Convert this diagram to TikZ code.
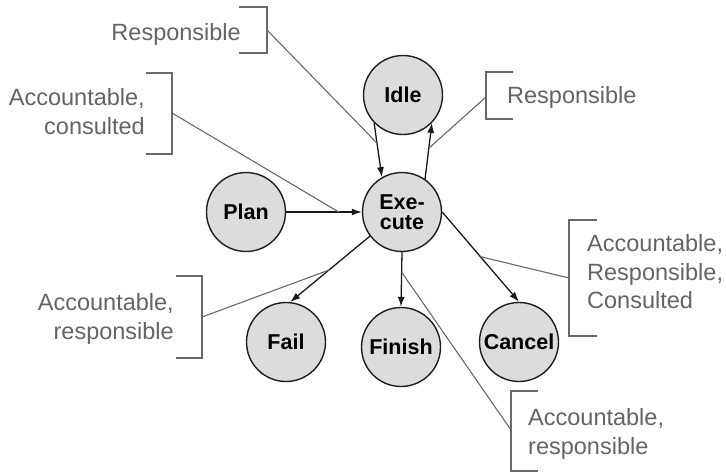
\documentclass[tikz,border=0pt]{standalone}
\usepackage{fontspec}
\setmainfont{Liberation Sans}
\usetikzlibrary{arrows.meta}
\definecolor{nodefill}{RGB}{220,220,222}
\definecolor{nodeline}{RGB}{30,30,30}
\definecolor{labgray}{RGB}{100,100,100}
\definecolor{linegray}{RGB}{105,105,105}
\tikzset{
  state/.style={circle, draw=nodeline, fill=nodefill, line width=1.4pt,
    minimum size=79pt, inner sep=0pt, align=center,
    font=\fontsize{21.5}{22}\selectfont\bfseries},
  arr/.style={-{Latex[length=10pt,width=7pt]}, line width=1.3pt, draw=black!90},
  lab/.style={inner sep=0pt, text=labgray, font=\fontsize{23.5}{28.5}\selectfont},
  brk/.style={draw=linegray, line width=1.2pt},
  note/.style={draw=linegray, line width=1.1pt}
}
\begin{document}
\begin{tikzpicture}[x=1pt, y=-1pt]
\useasboundingbox (0,0) rectangle (726,474);

% states
\node[state] (idle) at (403,95) {Idle};
\node[state] (exec) at (402,212) {Exe-\\[-2pt]cute};
\node[state] (plan) at (246,212) {Plan};
\node[state] (fail) at (286,342) {Fail};
\node[state] (finish) at (401,347) {Finish};
\node[state] (cancel) at (519,342) {Cancel};

% transitions
\draw[arr] (plan.east) -- coordinate[pos=0.695] (pPlan) (exec.west);
\draw[arr] (idle.224) -- coordinate[pos=0.372] (pIdleIn) (exec.120);
\draw[arr] (exec.55) -- coordinate[pos=0.55] (pIdleOut) (idle.-44);
\draw[arr] (exec.east) -- coordinate[pos=0.497] (pCancel) (cancel.north);
\draw[arr] (exec.217) -- coordinate[pos=0.515] (pFail) (fail.84);
\draw[arr] (exec.south) -- coordinate[pos=0.366] (pFinish) (finish.north);

% labels
\node[lab, anchor=north east, align=right] (l1) at (241,23.5) {Responsible};
\node[lab, anchor=north east, align=right] (l2) at (145,88.5) {Accountable,\\consulted};
\node[lab, anchor=north west, align=left] (l3) at (507,86.5) {Responsible};
\node[lab, anchor=north west, align=left] (l4) at (587,234.5) {Accountable,\\Responsible,\\Consulted};
\node[lab, anchor=north east, align=right] (l5) at (174,293.5) {Accountable,\\responsible};
\node[lab, anchor=north west, align=left] (l6) at (528,408.5) {Accountable,\\responsible};

% brackets
\draw[brk] (239,7) -- (267,7) -- (267,53) -- (239,53);
\coordinate (b1) at (267,30);
\draw[brk] (146,73) -- (172,73) -- (172,154) -- (146,154);
\coordinate (b2) at (172,113);
\draw[brk] (513,72) -- (486,72) -- (486,119) -- (513,119);
\coordinate (b3) at (486,97);
\draw[brk] (597,220) -- (569,220) -- (569,336) -- (597,336);
\coordinate (b4) at (569,278);
\draw[brk] (176,276) -- (202,276) -- (202,358) -- (176,358);
\coordinate (b5) at (202,317);
\draw[brk] (538,391) -- (511,391) -- (511,471) -- (538,471);
\coordinate (b6) at (511,430);

% annotation lines
\draw[note] (b1) -- (pIdleIn);
\draw[note] (b2) -- (pPlan);
\draw[note] (b3) -- (pIdleOut);
\draw[note] (b4) -- (pCancel);
\draw[note] (b5) -- (pFail);
\draw[note] (b6) -- (pFinish);
\end{tikzpicture}
\end{document}
